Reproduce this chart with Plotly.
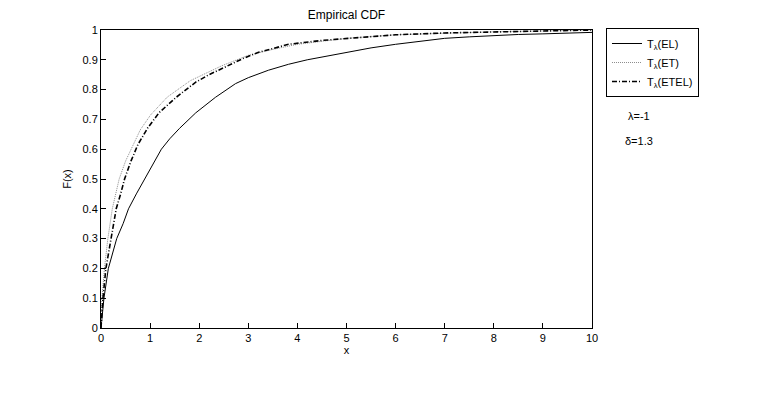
import plotly.graph_objects as go

# empirical CDF values
x_el = [0, 0.02, 0.06, 0.15, 0.32, 0.45, 0.56, 0.72, 0.89, 1.05, 1.23, 1.4, 1.6, 1.93, 2.1,
        2.33, 2.74, 3.0, 3.41, 3.82, 4.2, 4.6, 5.0, 5.5, 6.0, 6.5, 7.0, 7.5, 8.0, 8.5, 9.0, 9.5, 10.0]
f_el = [0.0, 0.04, 0.1, 0.2, 0.3, 0.35, 0.4, 0.45, 0.5, 0.55, 0.6, 0.635, 0.67, 0.722, 0.745,
        0.774, 0.82, 0.84, 0.865, 0.885, 0.9, 0.912, 0.925, 0.94, 0.952, 0.962, 0.972, 0.977, 0.982,
        0.985, 0.987, 0.99, 0.992]

x_et = [0, 0.02, 0.07, 0.14, 0.23, 0.37, 0.5, 0.65, 0.8, 1.01, 1.35, 1.82, 2.46, 3.0, 3.5, 4.0,
        5.0, 6.0, 7.0, 8.0, 9.0, 10.0]
f_et = [0.0, 0.1, 0.2, 0.3, 0.4, 0.5, 0.56, 0.615, 0.665, 0.715, 0.775, 0.83, 0.88, 0.915, 0.935,
        0.952, 0.972, 0.984, 0.99, 0.994, 0.997, 1.0]

x_etel = [0, 0.02, 0.04, 0.1, 0.2, 0.31, 0.4, 0.48, 0.61, 0.75, 0.95, 1.18, 1.53, 1.93, 2.2, 2.53,
          2.9, 3.21, 3.82, 4.5, 5.0, 6.0, 7.0, 8.0, 9.0, 10.0]
f_etel = [0.0, 0.05, 0.1, 0.2, 0.3, 0.4, 0.45, 0.5, 0.56, 0.615, 0.671, 0.722, 0.774, 0.825, 0.85,
          0.877, 0.905, 0.925, 0.952, 0.965, 0.972, 0.984, 0.99, 0.994, 0.997, 1.0]

names = ['T<sub>λ</sub>(EL)', 'T<sub>λ</sub>(ET)', 'T<sub>λ</sub>(ETEL)']
notes = ['λ=-1', 'δ=1.3']
note_y = [0.711, 0.628]

FONT = 'Liberation Sans, Arial, sans-serif'

fig = go.Figure()
fig.add_trace(go.Scatter(x=x_el, y=f_el, mode='lines', name=names[0],
                         line=dict(color='black', width=1)))
fig.add_trace(go.Scatter(x=x_et, y=f_et, mode='lines', name=names[1],
                         line=dict(color='#8c8c8c', width=1, dash='1px,1px')))
fig.add_trace(go.Scatter(x=x_etel, y=f_etel, mode='lines', name=names[2],
                         line=dict(color='black', width=1.6, dash='5px,2px,1px,2px')))

axis = dict(showline=True, mirror=True, linecolor='black', linewidth=1,
            ticks='inside', ticklen=5, tickcolor='black', showgrid=False, zeroline=False,
            tickfont=dict(size=11, color='black'))
fig.update_xaxes(range=[0, 10], dtick=1, title=dict(text='x', standoff=0, font=dict(size=11)), **axis)
fig.update_yaxes(range=[0, 1], dtick=0.1, title=dict(text='F(x)', standoff=8, font=dict(size=11)), **axis)

for t, yy in zip(notes, note_y):
    fig.add_annotation(text=t, xref='paper', yref='paper', x=1.096, y=yy,
                       xanchor='center', yanchor='middle',
                       showarrow=False, font=dict(size=11, color='black'))

# the page body adds an 8px offset, so margins are shifted to compensate
fig.update_layout(
    width=779, height=398,
    margin=dict(l=93, r=195, t=22, b=78),
    paper_bgcolor='white', plot_bgcolor='white',
    font=dict(family=FONT, size=11, color='black'),
    title=dict(text='Empirical CDF', x=0.5, xref='paper', y=0.982, yanchor='middle',
               font=dict(size=12)),
    legend=dict(x=1.0285, y=1.0067, xanchor='left', yanchor='top',
                bordercolor='black', borderwidth=1, bgcolor='white',
                font=dict(size=11), itemwidth=30),
    showlegend=True,
)

fig.write_html("out.html")
